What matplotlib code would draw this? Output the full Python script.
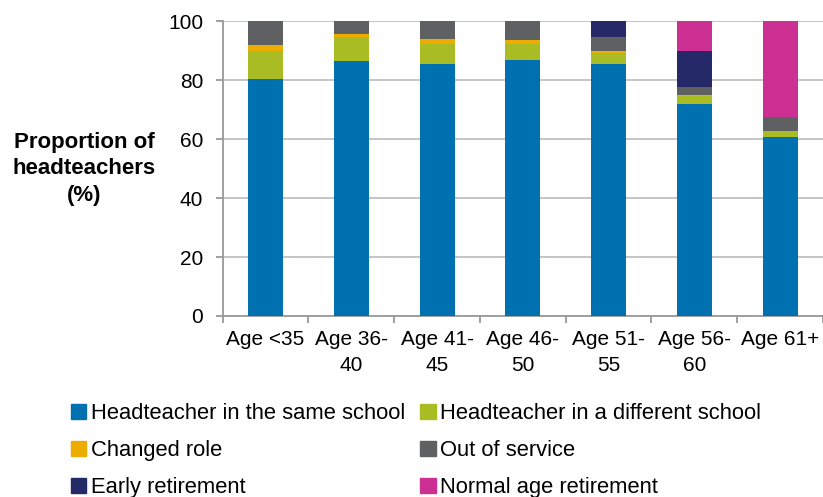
import numpy as np
import matplotlib
matplotlib.use("Agg")
import matplotlib.pyplot as plt
from matplotlib.patches import Patch

plt.rcParams['font.family'] = ['Liberation Sans', 'DejaVu Sans']

categories = ["Age <35", "Age 36-\n40", "Age 41-\n45", "Age 46-\n50", "Age 51-\n55", "Age 56-\n60", "Age 61+"]
series_names = ["Headteacher in the same school", "Headteacher in a different school",
                "Changed role", "Out of service", "Early retirement", "Normal age retirement"]

same_school = [80.4, 86.4, 85.4, 86.8, 85.4, 72.0, 60.7]
diff_school = [9.5, 8.1, 7.0, 5.6, 4.0, 2.6, 2.2]
changed_role = [2.2, 1.1, 1.6, 1.2, 0.6, 0.4, 0.0]
out_of_service = [7.9, 4.4, 6.0, 6.4, 4.6, 2.8, 4.6]
early_retirement = [0.0, 0.0, 0.0, 0.0, 5.4, 12.1, 0.0]
normal_retirement = [0.0, 0.0, 0.0, 0.0, 0.0, 10.1, 32.5]

colors = ["#0071B0", "#AABC24", "#EDAC00", "#5F6062", "#262968", "#CC3092"]

fig = plt.figure(figsize=(8.23, 4.97), dpi=100)
ax = fig.add_axes([0.2706, 0.3642, 0.7294, 0.5930])

x = np.arange(len(categories))
bottom = np.zeros(len(categories))
all_series = [same_school, diff_school, changed_role, out_of_service, early_retirement, normal_retirement]
for vals, col in zip(all_series, colors):
    ax.bar(x, vals, width=0.41, bottom=bottom, color=col, zorder=3)
    bottom += np.array(vals)

ax.set_xlim(-0.5, len(categories) - 0.5)
ax.set_ylim(0, 100)
ax.set_yticks(range(0, 101, 20))
ax.yaxis.grid(True, color="#c0c0c0", lw=1.3, zorder=0)

ax.set_xticks(x)
ax.set_xticklabels(categories, fontsize=15, linespacing=1.5)
ax.set_xticks(np.arange(-0.5, len(categories), 1), minor=True)
ax.tick_params(axis="x", which="major", length=0, pad=10)
ax.tick_params(axis="x", which="minor", length=5, color="#999999", width=1.3)
ax.tick_params(axis="y", labelsize=15, length=5, color="#999999", width=1.3, pad=9)

for s in ["top", "right"]:
    ax.spines[s].set_visible(False)
for s in ["left", "bottom"]:
    ax.spines[s].set_color("#999999")
    ax.spines[s].set_linewidth(1.3)

fig.text(84 / 823, 1 - 169 / 497, "Proportion of\nheadteachers\n(%)", ha="center", va="center",
         fontsize=16, fontweight="bold", linespacing=1.35)

handles = [Patch(color=c) for c in colors]
order = [0, 2, 4, 1, 3, 5]
fig.legend([handles[i] for i in order], [series_names[i] for i in order],
           ncol=2, loc="upper left", bbox_to_anchor=(71 / 823, 1 - 403 / 497),
           frameon=False, fontsize=15.8, handlelength=0.7, handleheight=0.7,
           handletextpad=0.2, columnspacing=0.7, labelspacing=0.74,
           borderpad=0, borderaxespad=0)

fig.savefig("out.png", dpi=100)
